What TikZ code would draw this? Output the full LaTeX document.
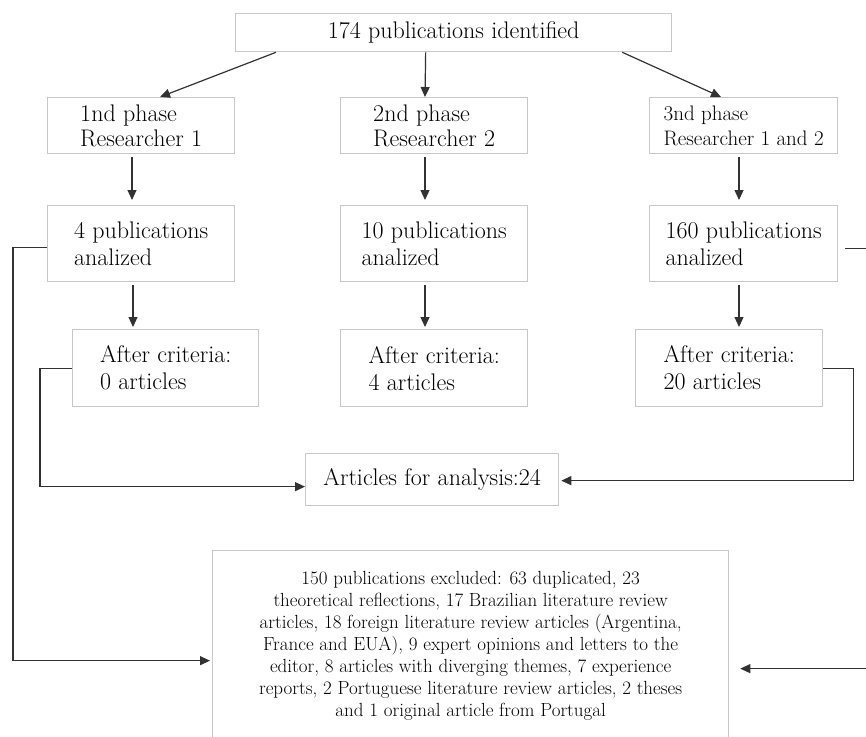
\documentclass[tikz,border=0pt]{standalone}
\usepackage{tikz}
\usetikzlibrary{arrows.meta}
\definecolor{boxgray}{RGB}{200,200,200}
\definecolor{linegray}{RGB}{50,50,50}

\begin{document}
\begin{tikzpicture}[x=1pt,y=-1pt,
  box/.style={draw=boxgray, line width=1.3pt, anchor=north west, align=left, inner sep=0pt,
    font=\fontsize{24}{27}\selectfont},
  conn/.style={draw=linegray, line width=1.2pt, -{Triangle[length=10pt,width=9pt]}}]
\useasboundingbox (0,0) rectangle (866,736);

\node at (235,13) (top)[box, minimum width=436pt, minimum height=38pt]{174 publications identified};

\node at (47,97) (ph1)[box, minimum width=187pt, minimum height=56pt,
  font=\fontsize{24}{25}\selectfont]{1nd phase\\Researcher 1};
\node at (340,97) (ph2)[box, minimum width=187pt, minimum height=56pt,
  font=\fontsize{24}{25}\selectfont]{2nd phase\\Researcher 2};
\node at (649,97) (ph3)[box, minimum width=188pt, minimum height=56pt,
  font=\fontsize{21}{25}\selectfont]{3nd phase\\Researcher 1 and 2};

\node at (47,205) (pub1)[box, minimum width=187pt, minimum height=76pt]{4 publications\\analized};
\node at (340,205) (pub2)[box, minimum width=187pt, minimum height=76pt]{10 publications\\analized};
\node at (649,205) (pub3)[box, minimum width=188pt, minimum height=76pt]{160 publications\\analized};

\node at (72,329) (cr1)[box, minimum width=186pt, minimum height=77pt]{After criteria:\\0 articles};
\node at (340,329) (cr2)[box, minimum width=187pt, minimum height=77pt]{After criteria:\\4 articles};
\node at (635,329) (cr3)[box, minimum width=187pt, minimum height=77pt]{After criteria:\\20 articles};

\node at (305,453) (art)[box, minimum width=253pt, minimum height=52pt]{Articles for analysis:24};

\node at (212,550) (excl)[box, align=center, minimum width=516pt, minimum height=190pt,
  font=\fontsize{19}{22}\selectfont]{150 publications excluded: 63 duplicated, 23\\
  theoretical reflections, 17 Brazilian literature review\\
  articles, 18 foreign literature review articles (Argentina,\\
  France and EUA), 9 expert opinions and letters to the\\
  editor, 8 articles with diverging themes, 7 experience\\
  reports, 2 Portuguese literature review articles, 2 theses\\
  and 1 original article from Portugal};

% phases
\draw[conn] ([xshift=41]top.south west) -- ([xshift=113]ph1.north west);
\draw[conn] ([xshift=-28]top.south) -- ([xshift=85]ph2.north west);
\draw[conn] ([xshift=-50]top.south east) -- ([xshift=72]ph3.north west);

\draw[conn, shorten <=3pt, shorten >=5pt] ([xshift=85]ph1.south west) -- ([xshift=85]pub1.north west);
\draw[conn, shorten <=3pt, shorten >=5pt] ([xshift=85]ph2.south west) -- ([xshift=85]pub2.north west);
\draw[conn, shorten <=3pt, shorten >=5pt] ([xshift=90]ph3.south west) -- ([xshift=90]pub3.north west);

\draw[conn, shorten <=3pt, shorten >=2pt] ([xshift=86]pub1.south west) -- ([xshift=61]cr1.north west);
\draw[conn, shorten <=3pt, shorten >=2pt] ([xshift=85]pub2.south west) -- ([xshift=85]cr2.north west);
\draw[conn, shorten <=3pt, shorten >=2pt] ([xshift=90]pub3.south west) -- ([xshift=104]cr3.north west);

% into the analysis
\draw[conn] (cr1.west) -- ++(-32,0) |- ([yshift=-7]art.west);
\draw[conn, shorten >=2pt] (cr3.east) -- ++(30,0) |- ([yshift=-1]art.east);

% excluded
\draw[conn, shorten >=2pt] ([yshift=-4]pub1.west) -- ++(-34,0) |- ([yshift=-15]excl.west);
\draw[conn, shorten >=11pt] ([xshift=7,yshift=-5]pub3.east) -- ++(28,0) |- ([yshift=-23]excl.east);
\end{tikzpicture}
\end{document}
